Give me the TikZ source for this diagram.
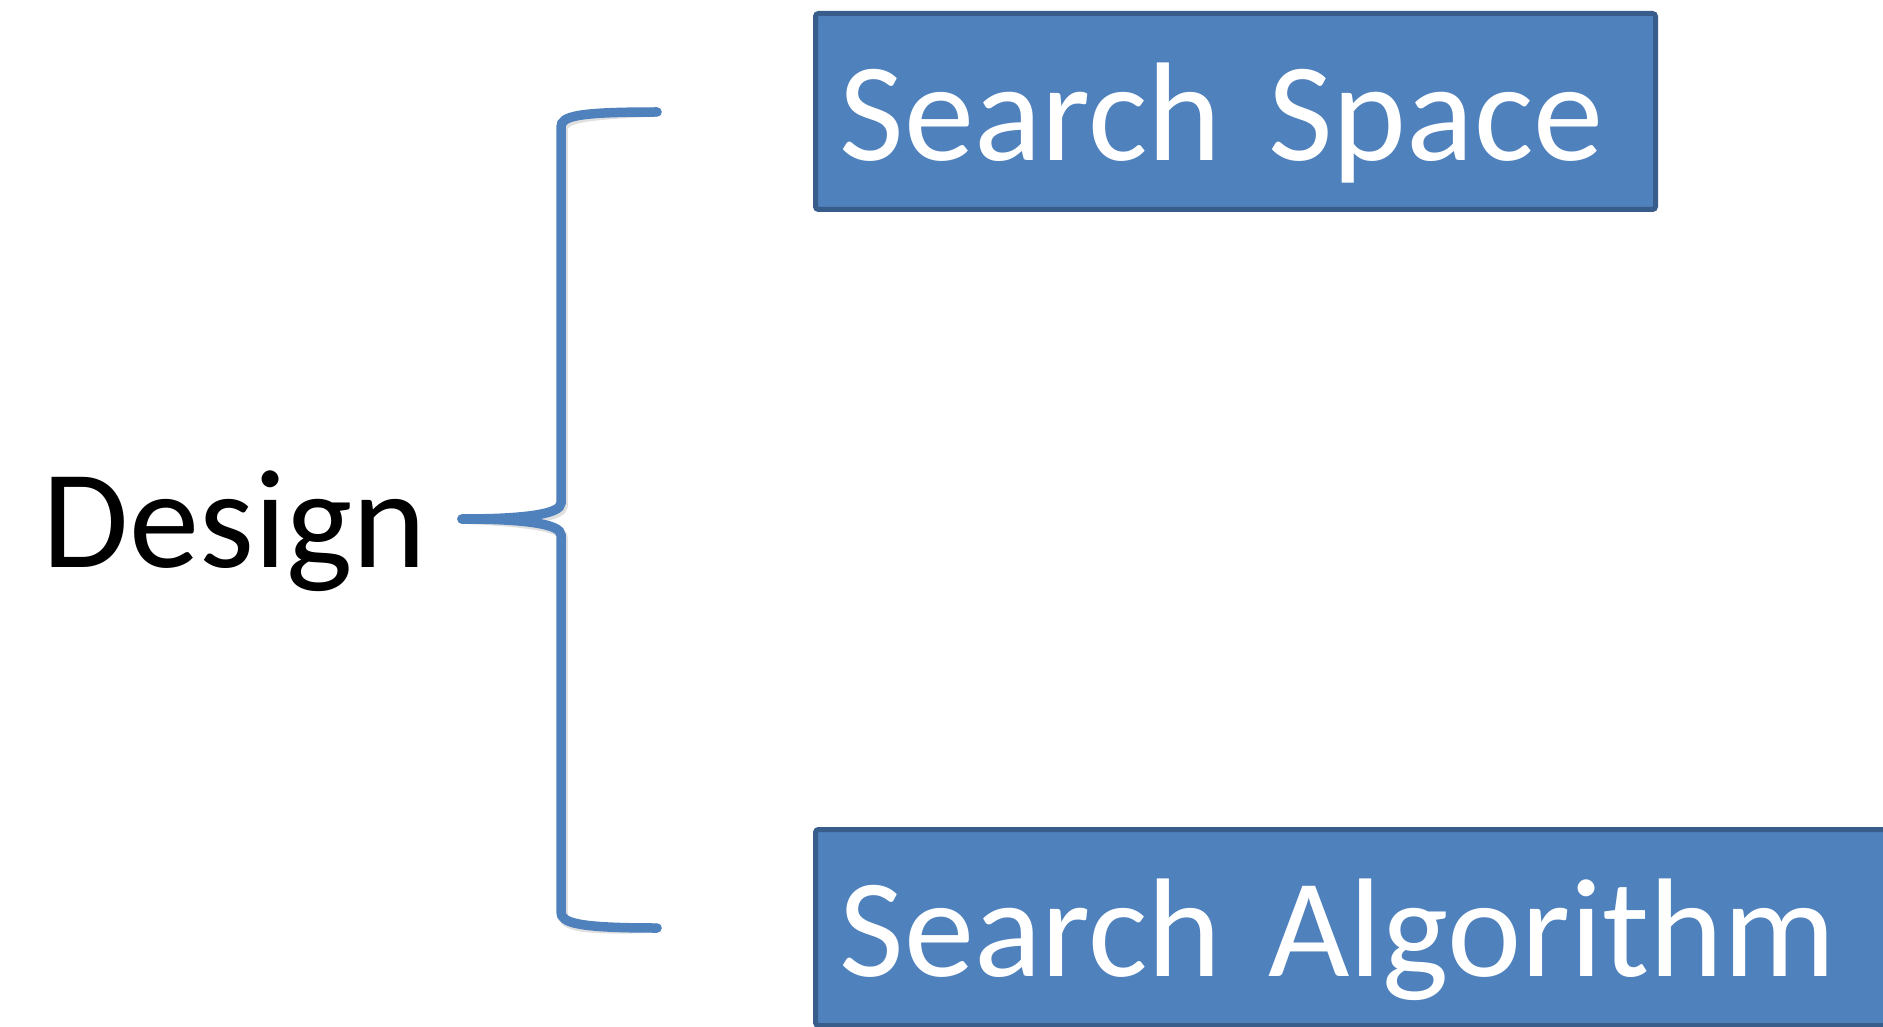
\documentclass[tikz,border=0pt]{standalone}
\usepackage{fontspec}
\setmainfont{Carlito}
\usepackage{xcolor}
\usepackage{tikz}
\usetikzlibrary{positioning, calc}
\definecolor{boxfill}{RGB}{79,129,189}
\definecolor{boxborder}{RGB}{56,93,138}
\definecolor{bracecol}{RGB}{79,129,189}
\tikzset{
    box/.style={
        rectangle,
        rounded corners=0.3mm,
        draw=boxborder,
        fill=boxfill,
        line width=0.5mm,
        text=white,
        align=left,
        inner xsep=2.4mm,
        inner ysep=0pt,
        text depth=0pt,
        minimum height=19.6mm,
        font=\fontsize{40}{48}\selectfont
    },
    brace/.style={draw=bracecol, line width=0.95mm, line cap=round},
    braceshadow/.style={draw=black!12, line width=0.95mm, line cap=round}
}

\begin{document}
\begin{tikzpicture}[
    x=0.1mm, y=-0.1mm,
    lbl/.style={
        inner sep=0pt,
        anchor=base west,
        font=\fontsize{40}{48}\selectfont
    }
]
\useasboundingbox (0,0) rectangle (1883,1027);
\clip (0,0) rectangle (1883,1027);

\node[box, anchor=north west, text width=79.2mm] (space) at (813,11) {Search Space};
\node[box, anchor=north west, text width=110mm] (algo) at (813,827) {Search Algorithm};
\node[lbl] (design) at (42,567) {Design};

\coordinate (brtop) at (657,112);
\coordinate (brtip) at (462,519);
\coordinate (brbot) at (657,928);

% curly brace, faint shadow first
\begin{scope}[shift={(2,3)}]
\draw[braceshadow] (brtop) .. controls (578,112) and (561,116) .. (561,127)
    -- (561,503) .. controls (561,514) and (525,519) .. (brtip);
\draw[braceshadow] (brtip) .. controls (525,519) and (561,524) .. (561,535)
    -- (561,912) .. controls (561,923) and (578,928) .. (brbot);
\end{scope}
\draw[brace] (brtop) .. controls (578,112) and (561,116) .. (561,127)
    -- (561,503) .. controls (561,514) and (525,519) .. (brtip);
\draw[brace] (brtip) .. controls (525,519) and (561,524) .. (561,535)
    -- (561,912) .. controls (561,923) and (578,928) .. (brbot);

\end{tikzpicture}
\end{document}
